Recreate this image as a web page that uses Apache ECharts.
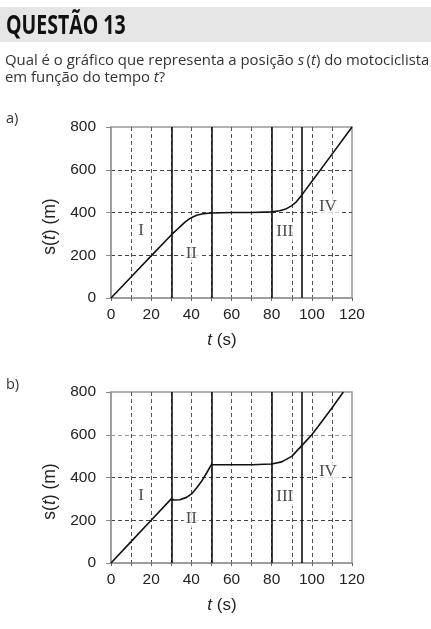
<!DOCTYPE html>
<html>
<head>
<meta charset="utf-8" />
<script src="https://cdn.jsdelivr.net/npm/echarts@6/dist/echarts.min.js"></script>
<title>questao 13</title>
<style type="text/css">
* {margin:0; padding:0;}
body { background:#fff; width:431px; height:629px; position:relative; overflow:hidden; }
#main { position:absolute; left:0; top:0; width:431px; height:629px; }
.band { position:absolute; left:0; top:7px; width:431px; height:35px; background:#e6e6e6; }
.titulo {
	position:absolute; left:6px; top:7px; height:35px; line-height:35px;
	font-family:"Open Sans", sans-serif; font-weight:bold; font-size:26px; color:#111;
	transform-origin:left center; transform:scaleX(0.75); white-space:nowrap;
}
.texto {
	position:absolute; left:5px; top:51px; width:430px;
	font-family:"Open Sans", sans-serif; font-size:14.9px; line-height:17px; color:#333; white-space:nowrap;
}
.letra { position:absolute; left:6px; font-family:"Open Sans", sans-serif; font-size:14.5px; color:#333; }
</style>
</head>
<body>
<div id="main"></div>
<div class="band"></div>
<div class="titulo">QUESTÃO 13</div>
<div class="texto">Qual é o gráfico que representa a posição <i>s</i>&#8201;(<i>t</i>) do motociclista<br/>em função do tempo <i>t</i>?</div>
<div class="letra" style="top:108px">a)</div>
<div class="letra" style="top:374px">b)</div>
<script>
// dados
var tA = [0, 10, 20, 30, 34, 37, 39, 41, 43, 46, 50, 60, 70, 80, 84, 87, 90, 92, 95, 97, 100, 110, 120];
var sA = [0, 98, 197, 295, 330, 356, 370, 380, 388, 394, 398, 400, 400, 403, 408, 416, 432, 447, 482, 507, 545, 672, 800];

var tB = [0, 10, 20, 30, 31.3, 34.3, 37.6, 40.1, 42.6, 45.1, 47.6, 50, 60, 70, 80, 85, 90, 95, 100, 105, 110, 115.7];
var sB = [0, 100, 200, 300, 295, 296, 307, 323, 351, 382, 421, 460, 460, 460, 463, 473, 499, 549, 600, 662, 725, 800];

var linhas = [30, 50, 80, 95];           // limites dos trechos
var trechos = ['I', 'II', 'III', 'IV'];
var trechoT = [15, 40, 86.5, 108];
var trechoS = [315, 210, 310, 427];

var xTicks = [0, 20, 40, 60, 80, 100, 120];
var yTicks = [0, 200, 400, 600, 800];

function pares(t, s) {
	var d = [];
	for (var i = 0; i < t.length; i++) d.push([t[i], s[i]]);
	return d;
}
function rotulos() {
	var d = [];
	for (var i = 0; i < trechos.length; i++) d.push({value: [trechoT[i], trechoS[i]], name: trechos[i]});
	return d;
}

var chart = echarts.init(document.getElementById('main'), null, {renderer: 'canvas'});

var tops = [127, 392];
var corHoriz = [
	['#444', '#444', '#444', '#999', '#444'],
	['#444', '#444', '#999', '#444', '#444']
];
var grids = [], xAxes = [], yAxes = [], series = [];

for (var k = 0; k < 2; k++) {
	grids.push({left: 111, top: tops[k], width: 241, height: 171, show: true, borderColor: '#999', borderWidth: 1.5, backgroundColor: 'transparent'});
	xAxes.push({
		gridIndex: k, type: 'value', min: 0, max: 120, interval: 10,
		name: '{i|t} (s)', nameLocation: 'middle', nameGap: 34,
		nameTextStyle: {fontFamily: 'Liberation Sans', fontSize: 17, color: '#222', padding: [0, 19, 0, 0],
			rich: {i: {fontStyle: 'italic', fontFamily: 'Liberation Sans', fontSize: 17, color: '#222'}}},
		axisLine: {lineStyle: {color: '#999', width: 1.5}},
		axisTick: {length: 3, lineStyle: {color: '#666'}},
		axisLabel: {margin: 9, fontFamily: 'Liberation Sans', fontSize: 15.5, color: '#222',
			formatter: function (v) { return xTicks.indexOf(v) >= 0 ? String(v) : ''; }},
		splitLine: {show: true, showMinLine: false, showMaxLine: false, lineStyle: {color: '#555', type: [4, 3], width: 1}}
	});
	yAxes.push({
		gridIndex: k, type: 'value', min: 0, max: 800, interval: 200,
		name: 's({i|t}) (m)', nameLocation: 'middle', nameGap: 47,
		nameTextStyle: {fontFamily: 'Liberation Sans', fontSize: 17.5, color: '#222', padding: [0, 28, 0, 0],
			rich: {i: {fontStyle: 'italic', fontFamily: 'Liberation Sans', fontSize: 17.5, color: '#222'}}},
		axisLine: {show: true, lineStyle: {color: '#999', width: 1.5}},
		axisTick: {show: true, length: 5, lineStyle: {color: '#888'}},
		axisLabel: {margin: 15, fontFamily: 'Liberation Sans', fontSize: 15.5, color: '#222',
			formatter: function (v) { return yTicks.indexOf(v) >= 0 ? String(v) : ''; }},
		splitLine: {show: true, showMinLine: false, showMaxLine: false, lineStyle: {color: corHoriz[k], type: [4, 3], width: 1}}
	});
	series.push({
		type: 'line', xAxisIndex: k, yAxisIndex: k,
		data: k === 0 ? pares(tA, sA) : pares(tB, sB),
		showSymbol: false, symbol: 'none', silent: true, z: 5,
		lineStyle: {color: '#111', width: 1.6},
		markLine: {
			silent: true, symbol: 'none', label: {show: false},
			lineStyle: {color: '#111', type: 'solid', width: 1.6},
			data: linhas.map(function (x) { return {xAxis: x}; })
		}
	});
	series.push({
		type: 'scatter', xAxisIndex: k, yAxisIndex: k, symbolSize: 0, silent: true, z: 6,
		data: rotulos(),
		label: {show: true, position: 'inside', formatter: '{b}', fontFamily: 'Liberation Serif', fontSize: 17,
			color: '#222', backgroundColor: '#fff', padding: [1, 2]}
	});
}

chart.setOption({
	animation: false,
	grid: grids,
	xAxis: xAxes,
	yAxis: yAxes,
	series: series
});
</script>
</body>
</html>
